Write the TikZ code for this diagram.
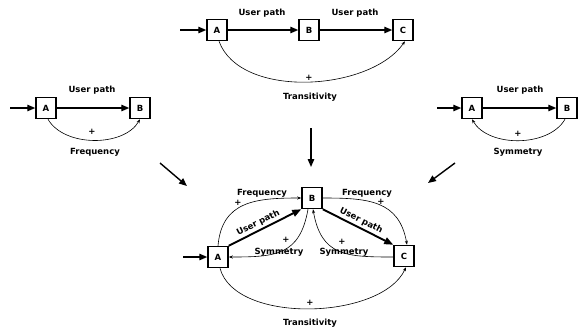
\documentclass[tikz,border=0pt]{standalone}
\usepackage{fontspec}
\setmainfont{DejaVu Sans}
\usetikzlibrary{arrows.meta}
\begin{document}
\begin{tikzpicture}[x=1pt,y=1pt,
 box/.style={draw, line width=1.5pt, minimum width=20pt, minimum height=21pt, inner sep=0pt, font=\fontsize{8.5}{9}\selectfont\bfseries},
 lbl/.style={font=\fontsize{8.5}{9}\selectfont\bfseries, inner sep=0pt},
 mainarrow/.style={line width=1.4pt, -{Triangle[length=8pt,width=6.5pt]}},
 bigarrow/.style={line width=1.9pt, -{Triangle[length=9pt,width=7pt]}},
 thinarrow/.style={line width=0.6pt, -{Stealth[length=4pt,width=3pt]}},
]
\useasboundingbox (0,0) rectangle (584,-333);
% ---- top: transitivity
\node[box] (tA) at (217,-30) {A};
\node[box] (tB) at (309,-30) {B};
\node[box] (tC) at (403,-30) {C};
\coordinate (tin) at (180,-30);
\draw[mainarrow] (tin) -- (tA);
\draw[mainarrow] (tA) -- (tB);
\draw[mainarrow] (tB) -- (tC);
\node[lbl] (tl1) at (262,-13) {User path};
\node[lbl] (tl2) at (355,-13) {User path};
\draw[thinarrow] ([xshift=2pt]tA.south) to[out=-70,in=-125,looseness=0.85] ([xshift=2pt]tC.south);
\node[lbl] (tp) at (309,-78) {+};
\node[lbl] (tt) at (310,-97) {Transitivity};
% ---- left: frequency
\node[box] (lA) at (46,-108) {A};
\node[box] (lB) at (140,-108) {B};
\coordinate (lin) at (10,-108);
\draw[mainarrow] (lin) -- (lA);
\draw[mainarrow] (lA) -- (lB);
\node[lbl] (ll1) at (92,-90) {User path};
\draw[thinarrow] ([xshift=2pt]lA.south) to[out=-60,in=-120,looseness=0.9] (lB.south);
\node[lbl] (lp) at (92,-132) {+};
\node[lbl] (lf) at (95,-152) {Frequency};
% ---- right: symmetry
\node[box] (rA) at (472,-108) {A};
\node[box] (rB) at (567,-108) {B};
\coordinate (rin) at (437,-108);
\draw[mainarrow] (rin) -- (rA);
\draw[mainarrow] (rA) -- (rB);
\node[lbl] (rl1) at (520,-90) {User path};
\draw[thinarrow] ([xshift=-2pt]rB.south) to[out=-120,in=-60,looseness=0.9] (rA.south);
\node[lbl] (rp) at (518,-134) {+};
\node[lbl] (rs) at (518,-152) {Symmetry};
% ---- arrows to combined
\coordinate (d1s) at (160,-163);
\coordinate (d1e) at (187,-186);
\coordinate (d2s) at (311,-128);
\coordinate (d2e) at (311,-167);
\coordinate (d3s) at (455,-163);
\coordinate (d3e) at (428,-183);
\draw[mainarrow] (d1s) -- (d1e);
\draw[mainarrow] (d2s) -- (d2e);
\draw[mainarrow] (d3s) -- (d3e);
% ---- bottom: combined
\node[box] (bA) at (218,-257) {A};
\node[box] (bB) at (312,-198) {B};
\node[box] (bC) at (404,-256) {C};
\coordinate (bin) at (183,-257);
\draw[mainarrow] (bin) -- (bA);
\draw[bigarrow] (bA.north east) -- (bB.south west) node[lbl, pos=0.45, sloped, above=2pt] {User path};
\draw[bigarrow] (bB.south east) -- (bC.north west) node[lbl, pos=0.5, sloped, above=2pt] {User path};
% frequency
\draw[thinarrow] (bA.north) to[out=85,in=180,looseness=1.2] (bB.west);
\node[lbl] (bfl) at (262,-193) {Frequency};
\node[lbl] (bfp) at (238,-203) {+};
\draw[thinarrow] (bB.east) to[out=0,in=100,looseness=1.2] ([xshift=3pt]bC.north);
\node[lbl] (bfr) at (367,-193) {Frequency};
\node[lbl] (bfq) at (381,-202) {+};
% symmetry
\draw[thinarrow] ([xshift=-4pt]bB.south) to[out=-100,in=0,looseness=1.3] (bA.east);
\node[lbl] (bsl) at (279,-252) {Symmetry};
\node[lbl] (bsp) at (286,-240) {+};
\draw[thinarrow] ([yshift=-1pt]bC.west) to[out=180,in=-80,looseness=1.3] ([xshift=1pt]bB.south);
\node[lbl] (bsr) at (344,-252) {Symmetry};
\node[lbl] (bsq) at (342,-242) {+};
% transitivity
\draw[thinarrow] ([xshift=2pt]bA.south) to[out=-75,in=-115,looseness=0.8] ([xshift=2pt]bC.south);
\node[lbl] (btp) at (310,-303) {+};
\node[lbl] (btt) at (310,-323) {Transitivity};
\end{tikzpicture}
\end{document}
